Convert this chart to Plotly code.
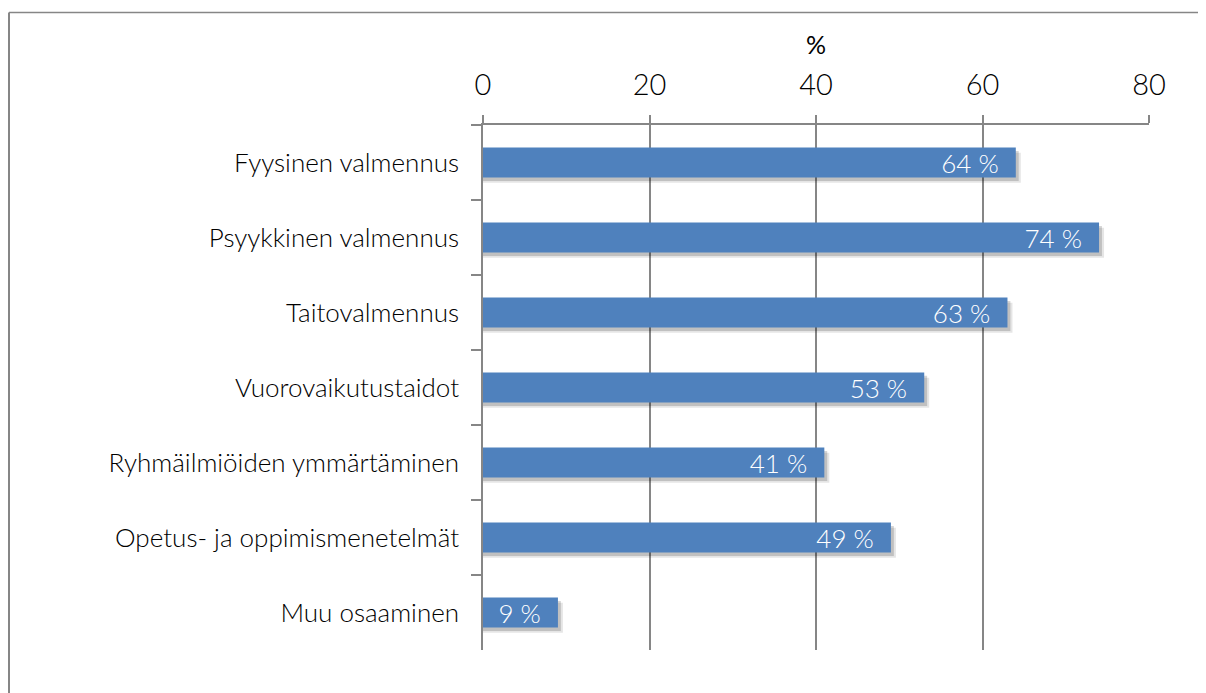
import plotly.graph_objects as go

categories = [
    "Fyysinen valmennus",
    "Psyykkinen valmennus",
    "Taitovalmennus",
    "Vuorovaikutustaidot",
    "Ryhmäilmiöiden ymmärtäminen",
    "Opetus- ja oppimismenetelmät",
    "Muu osaaminen",
]
values = [64, 74, 63, 53, 41, 49, 9]
x_ticks = [0, 20, 40, 60, 80]

FONT = "Lato"
GRAY = "#868686"
BLUE = "#4F81BD"

# the page body has an 8px margin, so positions below are relative to it
W, H = 1198, 685
L, R, T, B = 475, 57, 117, 43
pw, ph = W - L - R, H - T - B

fig = go.Figure()

# soft drop shadow behind the bars (two layers for a bit of blur)
for dx, dy, a in [(0.6, 0.07, 0.10), (0.35, 0.045, 0.16)]:
    fig.add_trace(go.Bar(
        y=categories, x=[v + dx for v in values], orientation="h",
        width=0.4, offset=-0.2 + dy,
        marker=dict(color=f"rgba(0,0,0,{a})", line=dict(width=0)),
        hoverinfo="skip", showlegend=False,
    ))

fig.add_trace(go.Bar(
    y=categories, x=values, orientation="h",
    width=0.4,
    marker=dict(color=BLUE, line=dict(width=0)),
    text=[f"{v} %\u00a0\u00a0" for v in values],
    textposition="inside", insidetextanchor="end",
    textfont=dict(family=FONT, size=26, color="white", weight=300),
    showlegend=False,
))

fig.update_layout(
    width=W, height=H,
    margin=dict(l=L, r=R, t=T, b=B),
    paper_bgcolor="white", plot_bgcolor="white",
    barmode="overlay",
    uniformtext=dict(minsize=26, mode="show"),
    font=dict(family=FONT, size=26, color="black", weight=300),
    xaxis=dict(
        side="top", range=[0, 80], tickvals=x_ticks,
        showgrid=True, gridcolor=GRAY, gridwidth=1.5,
        showline=True, linecolor=GRAY, linewidth=1.5,
        ticks="outside", ticklen=8, tickcolor=GRAY, tickwidth=1.5,
        ticklabelstandoff=9,
        tickfont=dict(size=29, weight=300),
        title=dict(text="%", font=dict(size=25, weight=400), standoff=4),
        zeroline=False,
    ),
    yaxis=dict(
        autorange="reversed", type="category",
        tickson="boundaries",
        showline=True, linecolor=GRAY, linewidth=1.5,
        ticks="outside", ticklen=10, tickcolor=GRAY, tickwidth=1.5,
        ticklabelstandoff=17,
        tickfont=dict(weight=300),
        showgrid=False,
    ),
    shapes=[
        dict(type="line", xref="paper", yref="paper",
             x0=(1 - L) / pw, x1=(W - L) / pw,
             y0=(H - B - 4.5) / ph, y1=(H - B - 4.5) / ph,
             line=dict(color=GRAY, width=1.5)),
        dict(type="line", xref="paper", yref="paper",
             x0=(1 - L) / pw, x1=(1 - L) / pw,
             y0=(H - B - 4.5) / ph, y1=-B / ph,
             line=dict(color=GRAY, width=2)),
    ],
)

fig.write_html("out.html")
